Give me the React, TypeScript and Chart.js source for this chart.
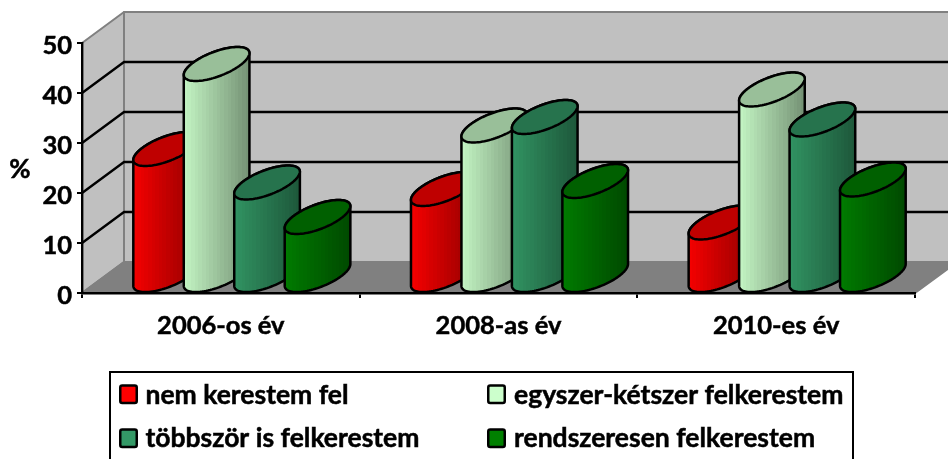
import React, { useEffect, useRef } from "react";
import { Chart, registerables } from "chart.js";

Chart.register(...registerables);

const categories = ["2006-os év", "2008-as év", "2010-es év"];
const yTicks = [0, 10, 20, 30, 40, 50];
const nemKerestem = [25.4, 17.4, 10.7];
const egyszerKetszer = [42.4, 30.1, 37.3];
const tobbszor = [18.7, 31.8, 31.3];
const rendszeresen = [11.8, 19, 19.3];
const seriesNames = [
  "nem kerestem fel",
  "egyszer-kétszer felkerestem",
  "többször is felkerestem",
  "rendszeresen felkerestem",
];
const seriesColors = [[255, 0, 0], [204, 255, 204], [51, 153, 102], [0, 128, 0]];

const FONT = "Lato, Carlito, sans-serif";
const DEPTH = { x: 42, y: -31 };
const CYL = { x: 42, y: -34 };

const rgb = (c: number[], k: number) =>
  `rgb(${Math.round(c[0] * k)},${Math.round(c[1] * k)},${Math.round(c[2] * k)})`;

const chart3d = {
  id: "chart3d",
  afterUpdate(chart: any) {
    // Lato's digits sit higher than the reference font's: nudge the value labels down.
    chart.scales.y.getLabelItems().forEach((it: any) => {
      it.textOffset += 2.5;
    });
  },
  beforeDraw(chart: any) {
    const { ctx, chartArea: a } = chart;
    ctx.save();
    ctx.lineJoin = "round";
    // side wall
    ctx.fillStyle = "#c0c0c0";
    ctx.strokeStyle = "#808080";
    ctx.lineWidth = 2;
    ctx.beginPath();
    ctx.moveTo(a.left, a.top);
    ctx.lineTo(a.left + DEPTH.x, a.top + DEPTH.y);
    ctx.lineTo(a.left + DEPTH.x, a.bottom + DEPTH.y);
    ctx.lineTo(a.left, a.bottom);
    ctx.closePath();
    ctx.fill();
    ctx.stroke();
    // back wall
    ctx.beginPath();
    ctx.rect(a.left + DEPTH.x, a.top + DEPTH.y, a.right - a.left, a.bottom - a.top);
    ctx.fill();
    ctx.stroke();
    // floor
    ctx.fillStyle = "#808080";
    ctx.beginPath();
    ctx.moveTo(a.left, a.bottom);
    ctx.lineTo(a.right, a.bottom);
    ctx.lineTo(a.right + DEPTH.x, a.bottom + DEPTH.y);
    ctx.lineTo(a.left + DEPTH.x, a.bottom + DEPTH.y);
    ctx.closePath();
    ctx.fill();
    ctx.stroke();
    // gridlines
    ctx.strokeStyle = "#000";
    ctx.lineWidth = 2.4;
    const y = chart.scales.y;
    y.ticks.forEach((t: any) => {
      if (t.value === y.min || t.value === y.max) return;
      const py = y.getPixelForValue(t.value);
      ctx.beginPath();
      ctx.moveTo(a.left, py);
      ctx.lineTo(a.left + DEPTH.x, py + DEPTH.y);
      ctx.lineTo(a.right + DEPTH.x, py + DEPTH.y);
      ctx.stroke();
    });
    ctx.restore();
  },
  beforeDatasetsDraw(chart: any) {
    const { ctx } = chart;
    chart.data.datasets.forEach((ds: any, i: number) => {
      const color = seriesColors[i];
      chart.getDatasetMeta(i).data.forEach((bar: any) => {
        const w = bar.width;
        const cx = bar.x + CYL.x / 2;
        const topY = bar.y + CYL.y / 2;
        const botY = bar.base + CYL.y / 2;
        const ex = (yc: number, t: number) => ({
          x: cx + (w / 2) * Math.cos(t) + (CYL.x / 2) * Math.sin(t),
          y: yc + (CYL.y / 2) * Math.sin(t),
        });
        const tL = Math.PI + Math.atan2(CYL.x, w); // leftmost point
        const tR = Math.atan2(CYL.x, w); // rightmost point
        const r = Math.hypot(w, CYL.x) / 2;
        ctx.save();
        ctx.lineJoin = "round";
        // body
        const path = () => {
          ctx.beginPath();
          const l = ex(topY, tL);
          ctx.moveTo(l.x, l.y);
          for (let k = 0; k <= 48; k++) {
            const p = ex(botY, tL + (k / 48) * Math.PI);
            ctx.lineTo(p.x, p.y);
          }
          for (let k = 0; k <= 48; k++) {
            const p = ex(topY, tR + (k / 48) * Math.PI);
            ctx.lineTo(p.x, p.y);
          }
          ctx.closePath();
        };
        const g = ctx.createLinearGradient(cx - r, 0, cx + r, 0);
        const steps = 18;
        for (let s = 0; s < steps; s++) {
          const k = 0.95 - 0.37 * (s / (steps - 1));
          g.addColorStop(s / steps, rgb(color, k));
          g.addColorStop((s + 1) / steps, rgb(color, k));
        }
        path();
        ctx.fillStyle = g;
        ctx.fill();
        ctx.strokeStyle = "#000";
        ctx.lineWidth = 2.5;
        ctx.stroke();
        // top face
        ctx.beginPath();
        for (let k = 0; k <= 96; k++) {
          const p = ex(topY, (k / 96) * Math.PI * 2);
          if (k === 0) ctx.moveTo(p.x, p.y);
          else ctx.lineTo(p.x, p.y);
        }
        ctx.closePath();
        ctx.fillStyle = rgb(color, 0.75);
        ctx.fill();
        ctx.stroke();
        ctx.restore();
      });
    });
    return false;
  },
  afterDraw(chart: any) {
    const { ctx } = chart;
    ctx.save();
    ctx.fillStyle = "#000";
    ctx.strokeStyle = "#000";
    ctx.font = `bold 26px ${FONT}`;
    ctx.textBaseline = "alphabetic";
    ctx.textAlign = "center";
    ctx.lineWidth = 0.5;
    ctx.fillText("%", 20, 178);
    ctx.strokeText("%", 20, 178);
    // legend
    ctx.font = `bold 26.5px ${FONT}`;
    ctx.lineWidth = 2;
    ctx.beginPath();
    ctx.rect(110, 372, 743, 100);
    ctx.stroke();
    ctx.textAlign = "left";
    const cols = [120.25, 488.25];
    const textCols = [145.5, 514];
    const swatchTops = [385.5, 429.5];
    const baselines = [404, 447];
    chart.data.datasets.forEach((ds: any, i: number) => {
      const col = i % 2;
      const row = Math.floor(i / 2);
      ctx.lineWidth = 2.5;
      ctx.beginPath();
      ctx.roundRect(cols[col], swatchTops[row], 16.5, 17.5, 2);
      ctx.fillStyle = ds.backgroundColor;
      ctx.fill();
      ctx.stroke();
      ctx.fillStyle = "#000";
      ctx.lineWidth = 0.5;
      ctx.fillText(ds.label, textCols[col], baselines[row]);
      ctx.strokeText(ds.label, textCols[col], baselines[row]);
    });
    ctx.restore();
  },
};

export default function App() {
  const ref = useRef<HTMLCanvasElement>(null);
  useEffect(() => {
    const allValues = [nemKerestem, egyszerKetszer, tobbszor, rendszeresen];
    const chart = new Chart(ref.current as HTMLCanvasElement, {
      type: "bar",
      data: {
        labels: categories,
        datasets: allValues.map((data, i) => ({
          label: seriesNames[i],
          data,
          backgroundColor: rgb(seriesColors[i], 1),
          categoryPercentage: 0.727,
          barPercentage: 1,
        })),
      },
      options: {
        responsive: false,
        animation: false,
        layout: { padding: { left: 0, right: 33, top: 43, bottom: 100 } },
        plugins: { legend: { display: false }, tooltip: { enabled: false } },
        scales: {
          x: {
            afterFit: (s: any) => { s.height = 66; },
            grid: { drawOnChartArea: false, drawTicks: true, tickLength: 5, color: "#000", lineWidth: 2 },
            border: { display: true, color: "#000", width: 2.4 },
            ticks: {
              color: "#000",
              padding: 12,
              textStrokeColor: "#000",
              textStrokeWidth: 0.5,
              font: { family: FONT, weight: "bold", size: 25.5 },
              maxRotation: 0,
            },
          },
          y: {
            min: yTicks[0],
            max: yTicks[yTicks.length - 1],
            afterFit: (s: any) => { s.width = 82; },
            afterBuildTicks: (s: any) => { s.ticks = yTicks.map((value) => ({ value })); },
            grid: { drawOnChartArea: false, drawTicks: true, tickLength: 5, color: "#000", lineWidth: 2 },
            border: { display: true, color: "#000", width: 2.4 },
            ticks: {
              color: "#000",
              padding: 5,
              textStrokeColor: "#000",
              textStrokeWidth: 0.5,
              font: { family: FONT, weight: "bold", size: 25.5 },
            },
          },
        },
      },
      plugins: [chart3d],
    } as any);
    return () => chart.destroy();
  }, []);
  return (
    <div style={{ position: "fixed", left: 0, top: 0, width: 948, height: 459, overflow: "hidden", background: "#fff" }}>
      <canvas ref={ref} width={948} height={459} style={{ display: "block" }} />
    </div>
  );
}
